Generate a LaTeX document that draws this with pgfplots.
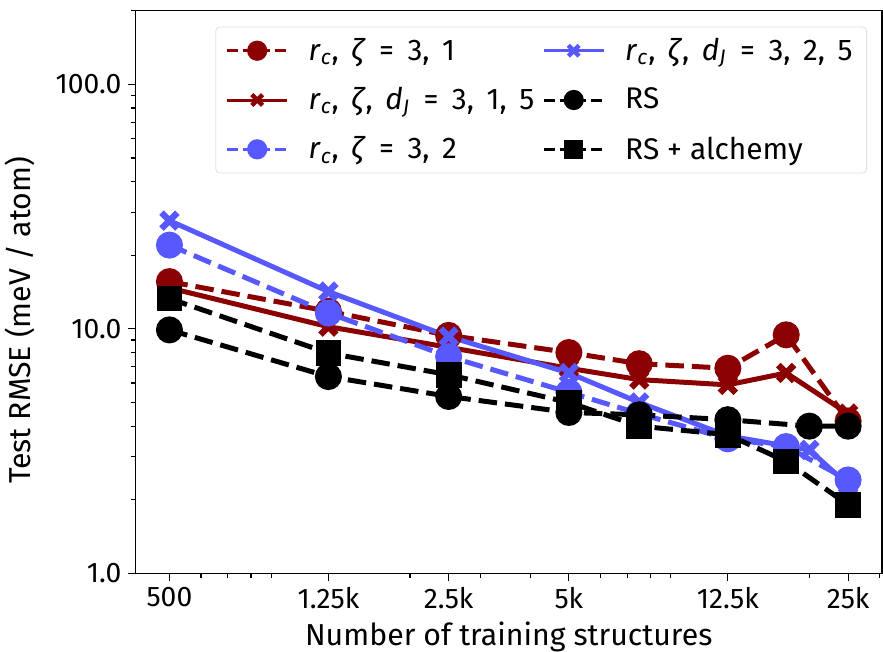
\documentclass[border=0pt]{standalone}
\usepackage{pgfplots}
\pgfplotsset{compat=1.18}
\usepackage{fontspec}
\setmainfont{Fira Sans}
\definecolor{dred}{RGB}{139,0,0}
\definecolor{lblue}{RGB}{88,88,255}
\newcommand{\lgcs}{,\hspace{0.42em}}
\newcommand{\lgeq}{\hspace{0.45em}=\hspace{0.45em}}
\newcommand{\lgrc}{\textit{r}\textsubscript{\textit{c}}}
\newcommand{\lgze}{\textit{ζ}}
\newcommand{\lgdj}{\textit{d}\textsubscript{\textit{J}}}
\begin{document}
\begin{tikzpicture}
\begin{axis}[name=ax, scale only axis, width=373.5bp, height=281.5bp,
  xmode=log, ymode=log, xmin=411, xmax=30400, ymin=1, ymax=200,
  xtick={500,1250,2500,5000,12500,25000},
  xticklabels={500,1.25k,2.5k,5k,12.5k,25k},
  minor xtick={600,700,800,900,2000,3000,4000,6000,7000,8000,9000,20000,30000},
  ytick={1,10,100}, yticklabels={1.0,10.0,100.0},
  minor ytick={2,3,4,5,6,7,8,9,20,30,40,50,60,70,80,90,200},
  xtick pos=left, ytick pos=left, tick align=outside,
  major tick length=3.85bp, minor tick length=2.2bp,
  every tick/.style={black, line width=0.6bp},
  axis line style={line width=0.7bp},
  /pgf/number format/assume math mode=true,
  tick label style={font=\fontsize{14.2}{16}\selectfont},
  xticklabel style={inner sep=1bp, yshift=-2bp},
  yticklabel style={inner sep=1bp, xshift=-2bp},
  xlabel={Number of training structures},
  ylabel={Test RMSE (meV / atom)},
  label style={font=\fontsize{15.2}{18}\selectfont},
  xlabel style={at={(rel axis cs:0.5,0)}, anchor=base, yshift=-36bp},
  ylabel style={at={(rel axis cs:-0.155,0.45)}, anchor=center},
  legend columns=2,
  legend cell align=left,
  legend style={at={(rel axis cs:1,1)}, anchor=north east, xshift=-7.5bp, yshift=-8bp,
    draw=black!12, rounded corners=2bp, fill=white, fill opacity=0.8, text opacity=1,
    font=\fontsize{15}{18}\selectfont, row sep=8bp, inner xsep=5bp, inner ysep=3.5bp,
    /tikz/every odd column/.append style={column sep=8bp},
    /tikz/every even column/.append style={column sep=2bp}},
  legend image code/.code={\draw[mark repeat=2,mark phase=2] plot coordinates {(0bp,0bp) (15bp,0bp) (30bp,0bp)};},
]
% legend entries
\addlegendimage{dred, line width=1.5bp, dash pattern=on 5.5bp off 2.4bp, mark=*, mark size=4.3bp, mark options={solid, fill opacity=1}}
\addlegendentry{\lgrc\lgcs\lgze\lgeq3\lgcs1}
\addlegendimage{lblue, line width=1.5bp, mark=x, mark size=3.8bp, mark options={solid, line width=2.2bp}}
\addlegendentry{\lgrc\lgcs\lgze\lgcs\lgdj\lgeq3\lgcs2\lgcs5}
\addlegendimage{dred, line width=1.5bp, mark=x, mark size=3.8bp, mark options={solid, line width=2.2bp}}
\addlegendentry{\lgrc\lgcs\lgze\lgcs\lgdj\lgeq3\lgcs1\lgcs5}
\addlegendimage{black, line width=1.5bp, dash pattern=on 5.5bp off 2.4bp, mark=*, mark size=4.3bp, mark options={solid, fill opacity=1}}
\addlegendentry{RS}
\addlegendimage{lblue, line width=1.5bp, dash pattern=on 5.5bp off 2.4bp, mark=*, mark size=4.3bp, mark options={solid, fill opacity=1}}
\addlegendentry{\lgrc\lgcs\lgze\lgeq3\lgcs2}
\addlegendimage{black, line width=1.5bp, dash pattern=on 5.5bp off 2.4bp, mark=square*, mark size=4bp, mark options={solid, fill opacity=1}}
\addlegendentry{RS + alchemy}
% data
\addplot[forget plot, dred, line width=2.5bp, dash pattern=on 9.25bp off 4bp, mark=*, mark size=5.5bp, mark options={solid}]
  coordinates {(500,15.6) (1250,11.8) (2500,9.4) (5000,8.0) (7500,7.2) (12500,6.9) (17500,9.45) (25000,4.2)};
\addplot[forget plot, dred, line width=2.5bp, mark=x, mark size=5.6bp, mark options={solid, line width=3.2bp}]
  coordinates {(500,14.7) (1250,10.2) (2500,8.4) (5000,6.9) (7500,6.2) (12500,5.9) (17500,6.6) (25000,4.5)};
\addplot[forget plot, lblue, line width=2.5bp, dash pattern=on 9.25bp off 4bp, mark=*, mark size=5.5bp, mark options={solid}]
  coordinates {(500,22.0) (1250,11.6) (2500,7.7) (5000,5.5) (7500,4.5) (12500,3.55) (17500,3.3) (25000,2.41)};
\addplot[forget plot, lblue, line width=2.5bp, mark=x, mark size=5.6bp, mark options={solid, line width=3.2bp}]
  coordinates {(500,27.7) (1250,14.2) (2500,9.3) (5000,6.6) (7500,5.0) (12500,3.65) (20000,3.2) (25000,2.3)};
\addplot[forget plot, black, line width=2.5bp, dash pattern=on 9.25bp off 4bp, mark=*, mark size=5.5bp, mark options={solid}]
  coordinates {(500,9.9) (1250,6.38) (2500,5.29) (5000,4.55) (7500,4.45) (12500,4.25) (20000,4.0) (25000,4.0)};
\addplot[forget plot, black, line width=2.5bp, dash pattern=on 9.25bp off 4bp, mark=square*, mark size=5.2bp, mark options={solid}]
  coordinates {(500,13.3) (1250,7.96) (2500,6.49) (5000,5.0) (7500,4.0) (12500,3.69) (17500,2.87) (25000,1.91)};
\end{axis}
\pgfresetboundingbox
\path ([shift={(-67.75bp,-39.15bp)}]ax.south west) rectangle ([shift={(0.5bp,5.35bp)}]ax.north east);
\end{tikzpicture}
\end{document}
